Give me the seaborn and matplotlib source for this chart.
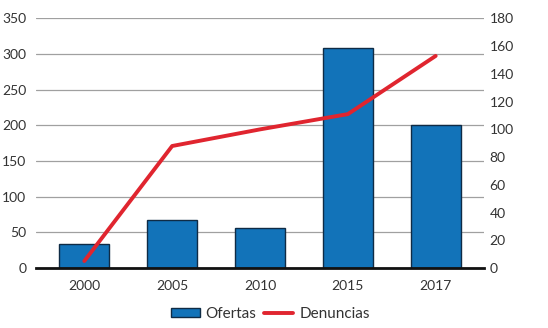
import numpy as np
import pandas as pd
import matplotlib
matplotlib.use('Agg')
import matplotlib.pyplot as plt
import seaborn as sns
from matplotlib.patches import Patch
from matplotlib.lines import Line2D

# data
years = ['2000', '2005', '2010', '2015', '2017']
ofertas = [33, 68, 56, 308, 200]
denuncias = [5, 88, 100, 111, 153]

sns.set_theme(style='white')
plt.rcParams['font.family'] = ['Lato', 'DejaVu Sans']

bar_color = '#1273b9'
edge_color = '#0f2b45'
line_color = '#e0252f'
text_color = '#333333'

df = pd.DataFrame({'year': years, 'ofertas': ofertas, 'denuncias': denuncias})

fig = plt.figure(figsize=(5.48, 3.28), dpi=100)
ax = fig.add_axes([0.0657, 0.183, 0.8175, 0.7606])

sns.barplot(data=df, x='year', y='ofertas', color=bar_color, width=0.57,
            edgecolor=edge_color, linewidth=1.0, saturation=1, ax=ax, zorder=2)
ax.set_ylim(0, 350)
ax.set_yticks(np.arange(0, 351, 50))
ax.yaxis.grid(True, color='#a0a0a0', linewidth=0.9, zorder=0)
ax.set_axisbelow(True)
ax.set_xlabel('')
ax.set_ylabel('')
for s in ['top', 'right', 'left']:
    ax.spines[s].set_visible(False)
ax.spines['bottom'].set_color('#111111')
ax.spines['bottom'].set_linewidth(2)
ax.tick_params(axis='both', length=0, labelsize=10, colors=text_color)
ax.tick_params(axis='y', pad=7)
ax.tick_params(axis='x', pad=9)

ax2 = ax.twinx()
sns.lineplot(x=np.arange(len(years)), y=denuncias, color=line_color,
             linewidth=2.8, ax=ax2)
ax2.set_ylim(0, 180)
ax2.set_yticks(np.arange(0, 181, 20))
ax2.set_ylabel('')
for s in ['top', 'right', 'left', 'bottom']:
    ax2.spines[s].set_visible(False)
ax2.tick_params(axis='y', length=0, labelsize=10, colors=text_color, pad=4)
ax.set_xlim(-0.55, len(years) - 0.45)

handles = [Patch(facecolor=bar_color, edgecolor=edge_color, linewidth=1.0),
           Line2D([0], [0], color=line_color, linewidth=2.8)]
fig.legend(handles, ['Ofertas', 'Denuncias'], loc='center', ncol=2,
           bbox_to_anchor=(0.493, 0.042), frameon=False, fontsize=11,
           handlelength=1.9, handleheight=0.55, columnspacing=0.5,
           handletextpad=0.4, labelcolor=text_color)

fig.savefig('out.png', dpi=100)
